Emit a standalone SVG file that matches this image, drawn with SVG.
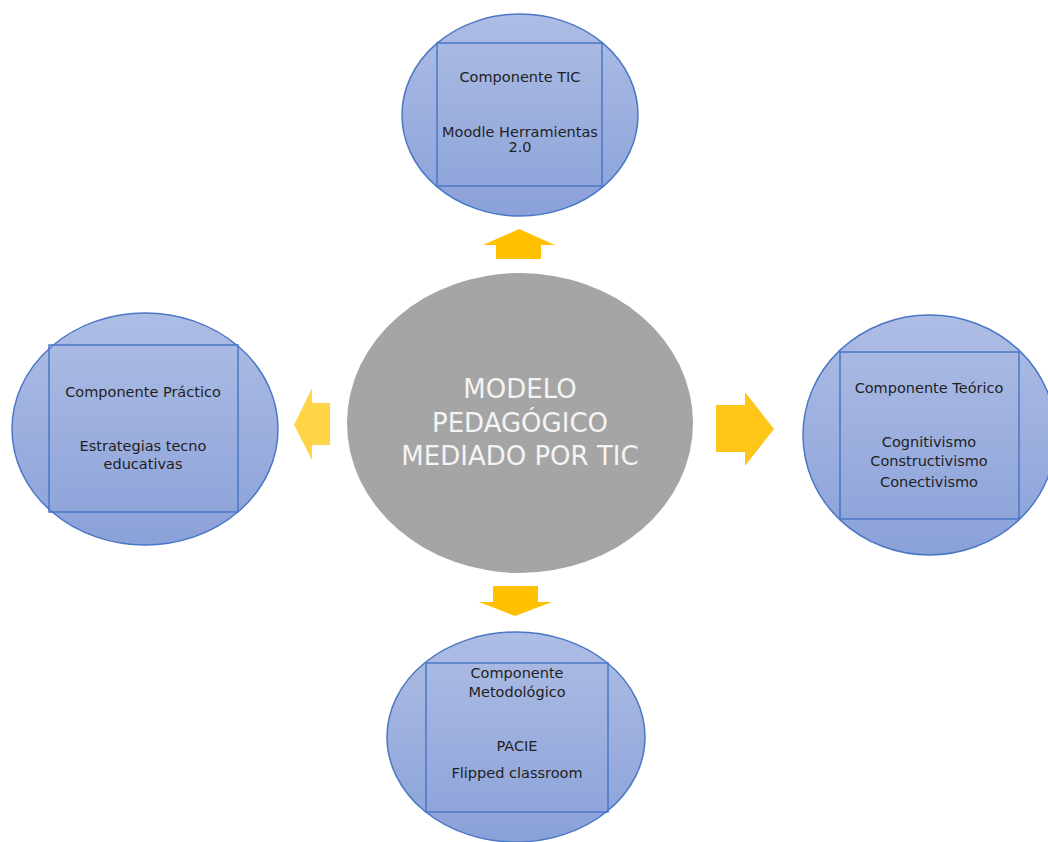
<svg xmlns="http://www.w3.org/2000/svg" width="1048" height="842" viewBox="0 0 1048 842">
<defs>
<linearGradient id="blueGrad" x1="0" y1="0" x2="0" y2="1">
<stop offset="0" stop-color="#AEBDE4"/>
<stop offset="1" stop-color="#8AA1D9"/>
</linearGradient>
<style>
.node ellipse{fill:url(#blueGrad);stroke:#4A77C6;stroke-width:1.5}
.node rect{fill:none;stroke:#4A77C6;stroke-width:1.5}
.lbl{font-family:"DejaVu Sans",sans-serif;font-size:14.5px;fill:#1f1f1f;text-anchor:middle}
.center text{font-family:"DejaVu Sans",sans-serif;font-size:26px;fill:#F4F4F4;text-anchor:middle}
</style>
</defs>
<rect width="1048" height="842" fill="#ffffff"/>
<g id="node-center" class="center">
<ellipse cx="520" cy="423" rx="173" ry="150" fill="#A5A5A5"/>
<text x="520" y="398">MODELO</text>
<text x="520" y="432">PEDAGÓGICO</text>
<text x="520" y="465">MEDIADO POR TIC</text>
</g>
<g id="node-tic" class="node">
<ellipse cx="520" cy="115" rx="118" ry="101"/>
<rect x="437" y="43" width="165" height="143"/>
<text class="lbl" x="520" y="82">Componente TIC</text>
<text class="lbl" x="520" y="137">Moodle Herramientas</text>
<text class="lbl" x="520" y="152">2.0</text>
</g>
<g id="node-practico" class="node">
<ellipse cx="145" cy="429" rx="133" ry="116"/>
<rect x="49" y="345" width="189" height="167"/>
<text class="lbl" x="143" y="397">Componente Práctico</text>
<text class="lbl" x="143" y="451">Estrategias tecno</text>
<text class="lbl" x="143" y="469">educativas</text>
</g>
<g id="node-teorico" class="node">
<ellipse cx="929.5" cy="435" rx="126.5" ry="120"/>
<rect x="840" y="352" width="179" height="167"/>
<text class="lbl" x="929" y="393">Componente Teórico</text>
<text class="lbl" x="929" y="447">Cognitivismo</text>
<text class="lbl" x="929" y="466">Constructivismo</text>
<text class="lbl" x="929" y="487">Conectivismo</text>
</g>
<g id="node-metodologico" class="node">
<ellipse cx="516" cy="737" rx="129" ry="105"/>
<rect x="426" y="663" width="182" height="149"/>
<text class="lbl" x="517" y="678">Componente</text>
<text class="lbl" x="517" y="697">Metodológico</text>
<text class="lbl" x="517" y="751">PACIE</text>
<text class="lbl" x="517" y="778">Flipped classroom</text>
</g>
<g id="connectors">
<polygon points="519,229 555,245 541,245 541,259 496,259 496,245 483,245" fill="#FFC000"/>
<polygon points="294,425 312,388 312,403 330,403 330,445 312,445 312,460" fill="#FFD447"/>
<polygon points="774,429 745,392 745,405 716,405 716,452 745,452 745,466" fill="#FFC61A"/>
<polygon points="515,616 552,602 538,602 538,586 493,586 493,602 479,602" fill="#FFC000"/>
</g>
</svg>
